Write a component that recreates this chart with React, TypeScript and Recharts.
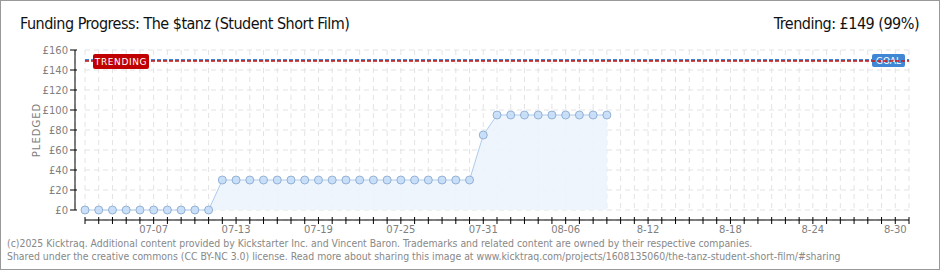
import { ComposedChart, Area, XAxis, YAxis, CartesianGrid, ReferenceLine } from 'recharts';

// one entry per day with data (07-02 .. 08-09)
const dates = [
    '07-02', '07-03', '07-04', '07-05', '07-06', '07-07', '07-08', '07-09', '07-10', '07-11',
    '07-12', '07-13', '07-14', '07-15', '07-16', '07-17', '07-18', '07-19', '07-20', '07-21',
    '07-22', '07-23', '07-24', '07-25', '07-26', '07-27', '07-28', '07-29', '07-30', '07-31',
    '08-01', '08-02', '08-03', '08-04', '08-05', '08-06', '08-07', '08-08', '08-09',
];
const pledged = [
    0, 0, 0, 0, 0, 0, 0, 0, 0, 0,
    30, 30, 30, 30, 30, 30, 30, 30, 30, 30,
    30, 30, 30, 30, 30, 30, 30, 30, 30, 75,
    95, 95, 95, 95, 95, 95, 95, 95, 95,
];

// campaign runs 07-02 .. 08-31 -> day index 0..60
const lastDay = 60;
const tickLabelDays = [5, 11, 17, 23, 29, 35, 41, 47, 53, 59];
const tickLabels = ['07-07', '07-13', '07-19', '07-25', '07-31', '08-06', '8-12', '8-18', '8-24', '8-30'];
const yTicks = [0, 20, 40, 60, 80, 100, 120, 140, 160];
const yMinorTicks = [10, 30, 50, 70, 90, 110, 130, 150];

const goal = 150;
const trending = 149;

const data = dates.map((d, i) => ({ day: i, date: d, pledged: pledged[i] }));
const xTicks = Array.from({ length: lastDay + 1 }, (_, i) => i);

const narrow = '"DejaVu Sans Condensed", "Noto Sans", sans-serif';
const tickFont = '"DejaVu Sans", sans-serif';

const XTick = (props: any) => {
    const { x, y, payload } = props;
    const idx = tickLabelDays.indexOf(payload.value);
    return (
        <g>
            <line x1={x} x2={x} y1={y - 3} y2={y + 4} stroke="#000" strokeWidth={1} />
            {idx >= 0 && (
                <text x={x} y={y + 13} textAnchor="middle" fontSize={10} fill="#808080" fontFamily={tickFont}>
                    {tickLabels[idx]}
                </text>
            )}
        </g>
    );
};

const YTick = (props: any) => {
    const { x, y, payload } = props;
    return (
        <g>
            <line x1={x - 5} x2={x + 2} y1={y} y2={y} stroke="#000" strokeWidth={1} />
            <text x={x - 7} y={y + 4} textAnchor="end" fontSize={10} fill="#808080" fontFamily={tickFont}>
                £{payload.value}
            </text>
        </g>
    );
};

const YMinorTick = (props: any) => {
    const { x, y } = props;
    return <line x1={x - 3} x2={x} y1={y} y2={y} stroke="#e00000" strokeWidth={1} />;
};

const TrendingLabel = (props: any) => {
    const { x, y } = props.viewBox;
    return (
        <g>
            <rect x={x + 8} y={y - 7} width={56} height={15} rx={2} fill="#c00000" />
            <text x={x + 36} y={y + 4} textAnchor="middle" fontSize={9} fill="#fff" fontFamily={tickFont} letterSpacing={0.6}>
                TRENDING
            </text>
        </g>
    );
};

const GoalLabel = (props: any) => {
    const { x, y, width } = props.viewBox;
    return (
        <g>
            <rect x={x + width - 37} y={y - 6} width={33} height={13} rx={2} fill="#3f86d4" />
            <text x={x + width - 20.5} y={y + 4} textAnchor="middle" fontSize={9} fill="#fff" fontFamily={tickFont}>
                GOAL
            </text>
        </g>
    );
};

const PledgedLabel = (props: any) => {
    const { y, height } = props.viewBox;
    const cy = y + (height - 10) / 2;
    return (
        <text x={40} y={cy} transform={`rotate(-90 40 ${cy})`} textAnchor="middle" fontSize={10} fill="#808080" fontFamily={tickFont} letterSpacing={1}>
            PLEDGED
        </text>
    );
};

const App = () => {
    return (
        <div style={{ position: 'absolute', left: 0, top: 0, width: 940, height: 270, background: '#fff' }}>
            <ComposedChart width={940} height={270} data={data} margin={{ top: 50, right: 31, bottom: 30, left: 0 }}>
                <CartesianGrid x={85} y={50} width={824} height={160} stroke="#e3e3e3" strokeDasharray="5 4" />
                <XAxis
                    dataKey="day"
                    type="number"
                    domain={[0, lastDay]}
                    ticks={xTicks}
                    interval={0}
                    padding={{ left: 10, right: 0 }}
                    height={20}
                    tickLine={false}
                    tickSize={0}
                    tickMargin={0}
                    axisLine={{ stroke: '#000', strokeDasharray: '0 10 2000' }}
                    tick={<XTick />}
                />
                <YAxis
                    yAxisId="minor"
                    type="number"
                    domain={[0, 160]}
                    ticks={yMinorTicks}
                    interval={0}
                    width={0}
                    padding={{ bottom: 10, top: 0 }}
                    tickLine={false}
                    tickSize={0}
                    tickMargin={0}
                    axisLine={false}
                    tick={<YMinorTick />}
                />
                <YAxis
                    type="number"
                    domain={[0, 160]}
                    ticks={yTicks}
                    interval={0}
                    width={75}
                    padding={{ bottom: 10, top: 0 }}
                    tickLine={false}
                    tickSize={0}
                    tickMargin={0}
                    axisLine={{ stroke: '#000', strokeDasharray: '160 2000' }}
                    tick={<YTick />}
                    label={<PledgedLabel />}
                />
                <Area
                    type="linear"
                    dataKey="pledged"
                    stroke="#aecbec"
                    strokeWidth={1}
                    fill="#edf4fd"
                    fillOpacity={0.9}
                    dot={{ r: 4, fill: '#c5ddf8', stroke: '#93b1d4', strokeWidth: 1 }}
                    isAnimationActive={false}
                />
                <ReferenceLine
                    segment={[{ x: 0, y: goal }, { x: lastDay, y: goal }]}
                    stroke="#3f86d4"
                    strokeWidth={2}
                    strokeDasharray="4 2"
                    label={<GoalLabel />}
                />
                <ReferenceLine
                    segment={[{ x: 0, y: trending }, { x: lastDay, y: trending }]}
                    stroke="#c81e1e"
                    strokeWidth={2}
                    strokeDasharray="4 2"
                    strokeOpacity={0.8}
                    label={<TrendingLabel />}
                />
            </ComposedChart>

            <div style={{ position: 'absolute', left: 20, top: 15, fontFamily: narrow, fontSize: 16, letterSpacing: -0.5, lineHeight: '18px', color: '#111' }}>
                Funding Progress: The $tanz (Student Short Film)
            </div>
            <div style={{ position: 'absolute', right: 21, top: 15, fontFamily: narrow, fontSize: 16, letterSpacing: -0.5, lineHeight: '18px', color: '#111' }}>
                Trending: £149 (99%)
            </div>
            <div style={{ position: 'absolute', left: 7, top: 237, fontFamily: narrow, fontSize: 10.4, lineHeight: '13px', color: '#888' }}>
                (c)2025 Kicktraq. Additional content provided by Kickstarter Inc. and Vincent Baron. Trademarks and related content are owned by their respective companies.
                <br />
                Shared under the creative commons (CC BY-NC 3.0) license. Read more about sharing this image at www.kicktraq.com/projects/1608135060/the-tanz-student-short-film/#sharing
            </div>
            <div style={{ position: 'absolute', left: 0, top: 0, width: 940, height: 270, boxSizing: 'border-box', border: '1px solid #999', pointerEvents: 'none' }} />
        </div>
    );
};

export default App;
